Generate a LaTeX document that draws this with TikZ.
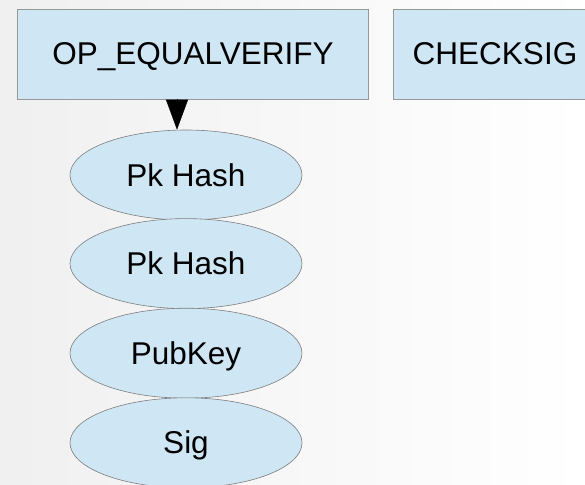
\documentclass[tikz,border=0pt]{standalone}
\usepackage{fontspec}
\setmainfont{Liberation Sans}
\definecolor{stackblue}{RGB}{207,230,244}
\definecolor{edgegrey}{RGB}{125,125,125}
\usetikzlibrary{shapes,arrows.meta,positioning,calc}

\tikzset{
    opbox/.style={draw=edgegrey!80,fill=stackblue,rectangle,inner sep=0pt,line width=0.6pt,
                  minimum height=90pt,text height=22pt,text depth=0pt,
                  font=\fontsize{31.5}{36}\selectfont},
    stackitem/.style={draw=edgegrey,fill=stackblue,ellipse,inner sep=0pt,line width=0.6pt,
                      minimum width=232pt,minimum height=90pt,text height=22pt,text depth=0pt,
                      font=\fontsize{31.5}{36}\selectfont},
    push/.style={-{Triangle[length=30pt,width=22pt]},line width=0.4pt}
}

\begin{document}
\begin{tikzpicture}[x=1pt,y=-1pt]
    \useasboundingbox (0,0) rectangle (585,484);
    \clip (0,0) rectangle (585,484);
    \shade[left color=black!6,right color=white] (0,0) rectangle (585,484);

    % operations
    \node[opbox,minimum width=351pt] (equalverify) at (193,54) {OP\_EQUALVERIFY};
    \node[opbox,minimum width=204pt] (checksig) at (495,54) {CHECKSIG};

    % stack
    \node[stackitem] (hashtop) at (186,175) {Pk Hash};
    \node[stackitem,below=-2pt of hashtop] (hash) {Pk Hash};
    \node[stackitem,below=-1pt of hash] (pubkey) {PubKey};
    \node[stackitem,below=-1pt of pubkey] (sig) {Sig};

    \draw[push] (equalverify.south -| {$(hashtop.north)+(-9,0)$}) -- ([xshift=-9pt]hashtop.north);
\end{tikzpicture}
\end{document}
